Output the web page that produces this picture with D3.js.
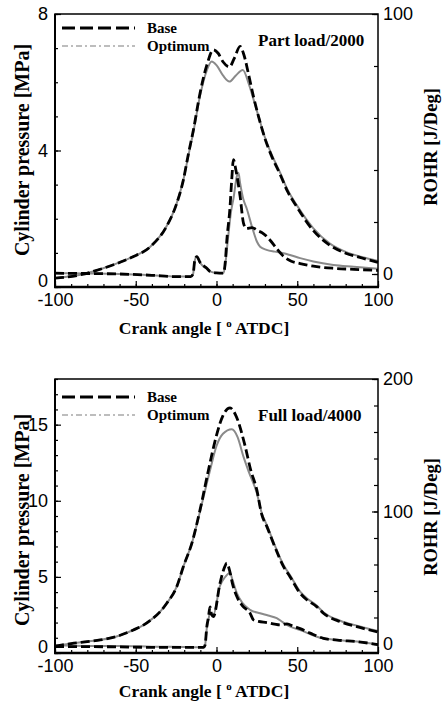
<!DOCTYPE html>
<html>
<head>
<meta charset="utf-8">
<script src="https://cdn.jsdelivr.net/npm/d3@7"></script>
<style>
body{margin:0;background:#fff;}
svg{display:block;}
</style>
</head>
<body>
<div id="chart"></div>
<script>
// Crank angle [deg ATDC], value pairs.

// Part load / 2000: cylinder pressure [MPa]
let partPressureBase = [[-100,0.26],[-85,0.35],[-72,0.52],[-60,0.72],[-52,0.88],[-41,1.18],[-31,1.77],[-25,2.4],[-20.5,3.14],[-17.4,3.9],[-14.3,4.6],[-10.2,5.68],[-6,6.5],[-2,6.95],[1,6.85],[4,6.6],[8,6.45],[11,6.7],[14.6,7.05],[17,6.8],[20,6.2],[22.9,5.58],[26,5.0],[30,4.35],[34,3.85],[39.4,3.3],[44,2.8],[49.7,2.35],[60,1.65],[70,1.23],[80,0.99],[90,0.85],[100,0.72]];
let partPressureOpt = [[-100,0.26],[-85,0.35],[-72,0.52],[-60,0.72],[-52,0.88],[-41,1.18],[-31,1.77],[-25,2.4],[-20.5,3.14],[-17.4,3.85],[-14.3,4.55],[-10.2,5.6],[-6,6.35],[-3,6.61],[0,6.5],[4,6.2],[8,6.02],[12,6.2],[16.3,6.36],[20,5.95],[22.9,5.5],[26,5.0],[30,4.38],[34,3.9],[39.4,3.35],[44,2.85],[49.7,2.4],[60,1.72],[70,1.28],[80,1.03],[90,0.88],[100,0.76]];

// Part load / 2000: rate of heat release [J/deg]
let partRohrBase = [[-100,0.3],[-80,0.2],[-60,0],[-40,-0.5],[-25,-1],[-16,-1],[-14.5,0],[-13.5,5],[-12.2,6.7],[-10.2,4.5],[-6,2.2],[-4,1.0],[0,0.4],[4.3,0.3],[5.5,5],[6.4,13],[8.4,26],[9.4,36],[10.5,44],[12,40],[14.6,30],[16.7,19.6],[18.5,17.5],[22,17.8],[26,16.5],[28,16],[33.2,13],[37,10],[41.5,6.8],[46,5.0],[51.8,4.0],[60,3],[72.4,2.2],[85,1.8],[100,1.4]];
let partRohrOpt = [[-100,0.3],[-80,0.2],[-60,0],[-40,-0.5],[-25,-1],[-16,-1],[-14.5,0],[-13.5,5],[-12.2,6.7],[-10.2,4.3],[-6,2.0],[-4,1.0],[0,0.4],[4.3,0.3],[5.5,4],[7,13],[9,24],[10.5,29],[12.6,37.6],[13.6,38.9],[14.6,35],[16.5,29],[18.8,25],[21.9,18.3],[25,12.5],[27,10.5],[31,9.3],[36,8.6],[41.5,8],[46,7.2],[51.8,6.1],[60,4.8],[72.4,3.5],[85,2.8],[100,2.0]];

// Full load / 4000: cylinder pressure [MPa]
let fullPressureBase = [[-100,0.45],[-90,0.62],[-80,0.75],[-72,0.86],[-60,1.15],[-51.5,1.51],[-45,1.85],[-41,2.15],[-35,2.7],[-30.8,3.27],[-24.6,4.36],[-20.5,5.68],[-15,7.3],[-10.2,9.4],[-4,12.5],[0,14.3],[4,15.6],[8.4,16.1],[12,15.6],[17.7,13.6],[21,12.1],[25,10.7],[28,9.1],[31.2,8.3],[36,7.0],[41.5,5.68],[45.6,5.0],[51.8,3.93],[55.9,3.5],[62,3.05],[66.2,2.61],[76.6,2.06],[86.9,1.73],[100,1.38]];
let fullPressureOpt = [[-100,0.45],[-90,0.62],[-80,0.75],[-72,0.86],[-60,1.15],[-51.5,1.51],[-45,1.85],[-41,2.15],[-35,2.7],[-30.8,3.27],[-24.6,4.36],[-20.5,5.68],[-15,7.3],[-10.2,9.3],[-4,12.0],[0,13.6],[4,14.4],[9.5,14.7],[13,14.2],[16.7,12.9],[20,11.9],[25,10.5],[28,9.2],[31.2,8.4],[36,7.1],[41.5,5.78],[45.6,5.1],[51.8,4.03],[55.9,3.6],[62,3.12],[66.2,2.68],[76.6,2.12],[86.9,1.79],[100,1.45]];

// Full load / 4000: rate of heat release [J/deg]
let fullRohrBase = [[-100,-2],[-80,-2],[-60,-2.2],[-40,-2.5],[-20,-2.5],[-8,-2.5],[-7.1,-1],[-6,13],[-5,20],[-4,28],[-3,22],[-1.9,20.7],[2.2,46],[5,58],[6.4,61],[8,56],[10,45],[12.6,35.8],[16,29],[20.8,23.2],[22.9,18.2],[26,17],[31.2,16.2],[36,15],[39.4,14.4],[43.6,15.2],[48,13.2],[51.8,11.6],[58,8.2],[66.2,4.3],[76,2.8],[86.9,1.8],[100,-0.5]];
let fullRohrOpt = [[-100,-1],[-80,-1.5],[-60,-1.5],[-40,-2],[-20,-2.3],[-8,-2.5],[-7.1,-1],[-6,12],[-5,18],[-4,24],[-2,22],[2.2,44],[5,50],[8.4,53.6],[10,48],[12.6,38.4],[16,31],[20.8,25.8],[27,23.2],[32,21.5],[37.3,19.5],[41,16.5],[45.6,13.1],[51.8,10.5],[58,7.5],[62.1,5.5],[66.2,4.3],[76,2.8],[86.9,1.8],[100,-0.5]];

// Axis ticks
let angleTicks = [-100,-50,0,50,100];
let angleMinor = d3.range(-100,101,10);
let partPressureTicks = [0,4,8];
let partRohrTicks = [0,100];
let fullPressureTicks = [0,5,10,15];
let fullRohrTicks = [0,100,200];

let legendNames = ["Base","Optimum"];

const W = 443, H = 706;
const serif = "'Liberation Serif','Times New Roman',serif";
const sans = "'Liberation Sans',Arial,sans-serif";
const plain = d => String(d);   // hyphen minus, like the original

let svg = d3.select("#chart").append("svg")
  .attr("width", W).attr("height", H)
  .style("background", "#fff");

let styles = {
  base: {stroke: "#000", width: 2.8, dash: "9,4"},
  opt:  {stroke: "#8a8a8a", width: 2, dash: null}
};

function drawPanel(cfg){
  let g = svg.append("g");
  let x = d3.scaleLinear().domain([-100,100]).range([55,378]);
  let yL = d3.scaleLinear().domain(cfg.leftDomain).range([cfg.bottom, cfg.top]);
  let yR = d3.scaleLinear().domain(cfg.rightDomain).range([cfg.bottom, cfg.top]);

  let lineL = d3.line().x(d=>x(d[0])).y(d=>yL(d[1])).curve(d3.curveMonotoneX);
  let lineR = d3.line().x(d=>x(d[0])).y(d=>yR(d[1])).curve(d3.curveMonotoneX);

  // grey (optimum) first, dashed base on top
  let series = [
    {d: cfg.rohrOpt, l: lineR, s: styles.opt},
    {d: cfg.pressOpt, l: lineL, s: styles.opt},
    {d: cfg.rohrBase, l: lineR, s: styles.base},
    {d: cfg.pressBase, l: lineL, s: styles.base}
  ];
  g.selectAll("path.curve").data(series).join("path")
    .attr("class","curve")
    .attr("d", s=>s.l(s.d))
    .attr("fill","none")
    .attr("stroke", s=>s.s.stroke)
    .attr("stroke-width", s=>s.s.width)
    .attr("stroke-dasharray", s=>s.s.dash)
    .attr("stroke-linejoin","round");

  // axes: ticks point inward
  let ax = (sel)=>sel.call(s=>s.select(".domain").remove())
    .call(s=>s.selectAll("text").attr("font-family", sans).attr("font-size", 18).attr("fill","#000"))
    .call(s=>s.selectAll("line").attr("stroke","#000").attr("stroke-width",1.2));

  g.append("g").attr("transform",`translate(0,${cfg.bottom})`)
    .call(d3.axisBottom(x).tickValues(angleMinor).tickSize(-3).tickFormat(""))
    .call(ax);
  g.append("g").attr("transform",`translate(0,${cfg.bottom})`)
    .call(d3.axisBottom(x).tickValues(angleTicks).tickSize(-6).tickPadding(6).tickFormat(plain))
    .call(ax);

  g.append("g").attr("transform","translate(55,0)")
    .call(d3.axisLeft(yL).tickValues(d3.range(cfg.leftDomain[0], cfg.leftDomain[1]+0.01, 1)).tickSize(-3).tickFormat(""))
    .call(ax);
  g.append("g").attr("transform","translate(55,0)")
    .call(d3.axisLeft(yL).tickValues(cfg.leftTicks).tickSize(-6).tickPadding(7).tickFormat(plain))
    .call(ax)
    .call(s=>s.selectAll("text").filter(d=>d===0).attr("dy","-0.05em"));

  g.append("g").attr("transform","translate(378,0)")
    .call(d3.axisRight(yR).tickValues(d3.range(0, cfg.rightDomain[1]+0.01, 20)).tickSize(-4).tickFormat(""))
    .call(ax);
  g.append("g").attr("transform","translate(378,0)")
    .call(d3.axisRight(yR).tickValues(cfg.rightTicks).tickSize(-6).tickPadding(5).tickFormat(plain))
    .call(ax);

  // frame
  g.append("rect").attr("x",55).attr("y",cfg.top).attr("width",323).attr("height",cfg.bottom-cfg.top)
    .attr("fill","none").attr("stroke","#000").attr("stroke-width",1.5);
  g.append("line").attr("x1",54).attr("x2",379).attr("y1",cfg.bottom).attr("y2",cfg.bottom)
    .attr("stroke","#000").attr("stroke-width",2.5);
  g.append("line").attr("x1",55).attr("x2",55).attr("y1",cfg.top).attr("y2",cfg.bottom)
    .attr("stroke","#000").attr("stroke-width",2);

  // axis titles
  g.append("text")
    .attr("transform",`translate(29,${cfg.leftTitleY}) rotate(-90)`)
    .attr("text-anchor","middle")
    .attr("font-family",serif).attr("font-weight","bold").attr("font-size",20)
    .text("Cylinder pressure [MPa]");
  g.append("text")
    .attr("transform",`translate(437,${cfg.rightTitleY}) rotate(-90)`)
    .attr("text-anchor","middle")
    .attr("font-family",serif).attr("font-weight","bold").attr("font-size",18.5)
    .text("ROHR [J/Deg]");
  let xt = g.append("text")
    .attr("x",204).attr("y",cfg.xTitleY)
    .attr("text-anchor","middle")
    .attr("font-family",serif).attr("font-weight","bold").attr("font-size",17.5);
  xt.append("tspan").text("Crank angle [ ");
  xt.append("tspan").attr("font-size",11).attr("dy",-7).text("o");
  xt.append("tspan").attr("dy",7).text(" ATDC]");

  // legend
  let leg = g.append("g");
  let items = [styles.base, styles.opt];
  items.forEach((s,i)=>{
    let yy = cfg.legendY[i];
    leg.append("line").attr("x1",62).attr("x2",135).attr("y1",yy).attr("y2",yy)
      .attr("stroke", i==0 ? s.stroke : "#a8a8a8").attr("stroke-width", i==0 ? 3 : 1.6)
      .attr("stroke-dasharray", i==0 ? "13,5" : "6,3,2,3");
    leg.append("text").attr("x",147).attr("y",yy+5)
      .attr("font-family",serif).attr("font-weight","bold").attr("font-size",15)
      .text(legendNames[i]);
  });
  g.append("text").attr("x",258).attr("y",cfg.labelY)
    .attr("font-family",serif).attr("font-weight","bold").attr("font-size",17)
    .text(cfg.label);
}

drawPanel({
  top: 14, bottom: 287,
  leftDomain: [0,8], rightDomain: [-5,100],
  leftTicks: partPressureTicks, rightTicks: partRohrTicks,
  pressBase: partPressureBase, pressOpt: partPressureOpt,
  rohrBase: partRohrBase, rohrOpt: partRohrOpt,
  leftTitleY: 150, rightTitleY: 147, xTitleY: 334,
  legendY: [28, 46], label: "Part load/2000", labelY: 46
});

drawPanel({
  top: 379, bottom: 653,
  leftDomain: [0,18], rightDomain: [-6.8,200],
  leftTicks: fullPressureTicks, rightTicks: fullRohrTicks,
  pressBase: fullPressureBase, pressOpt: fullPressureOpt,
  rohrBase: fullRohrBase, rohrOpt: fullRohrOpt,
  leftTitleY: 520, rightTitleY: 517, xTitleY: 697,
  legendY: [397, 415], label: "Full load/4000", labelY: 421
});
</script>
</body>
</html>
